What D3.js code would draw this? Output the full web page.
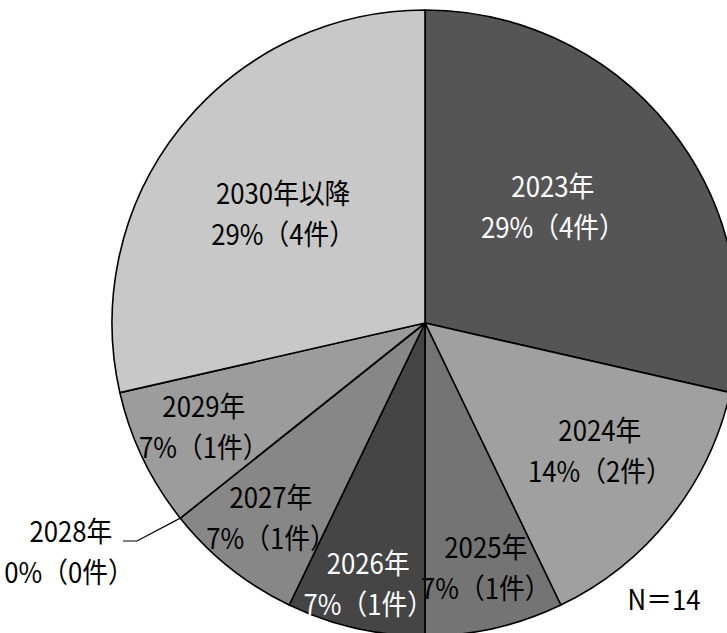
<!DOCTYPE html>
<html>
<head>
<meta charset="utf-8">
<script src="https://cdn.jsdelivr.net/npm/d3@7"></script>
<style>
body { margin: 0; background: #fff; }
text { font-family: "Noto Sans CJK JP", sans-serif; }
</style>
</head>
<body>
<script>
// data
var years = ["2023年", "2024年", "2025年", "2026年", "2027年", "2028年", "2029年", "2030年以降"];
var counts = [4, 2, 1, 1, 1, 0, 1, 4];
var total = 14;

// look
var fills = ["#555555", "#a0a0a0", "#747474", "#454545", "#878787", "#888888", "#9c9c9c", "#c8c8c8"];
var textFill = ["#fff", "#000", "#000", "#fff", "#000", "#000", "#000", "#000"];
// nudges from the centroid at 0.6r, labels were hand placed in the original
var nudge = [[-19, 0], [28, 9], [19, 60], [-15, 76], [-37, 47], [0, 0], [-52, 21], [5, 7]];

var width = 727, height = 633;
var cx = 425, cy = 323, r = 313;
var fs = 28, lineH = 41;
// the original font is a narrow gothic, so squeeze a little sideways
var squeeze = "scale(0.92,1)";

var svg = d3.select("body").append("svg")
    .attr("width", width)
    .attr("height", height);

var g = svg.append("g").attr("transform", "translate(" + cx + "," + cy + ")");

var pie = d3.pie().sort(null).value(function(d){ return d; });
var arcs = pie(counts);
var arc = d3.arc().innerRadius(0).outerRadius(r);
var labelArc = d3.arc().innerRadius(r * 0.6).outerRadius(r * 0.6);
var edgeArc = d3.arc().innerRadius(r).outerRadius(r);

g.selectAll("path.slice")
    .data(arcs).enter()
    .append("path")
    .attr("class", "slice")
    .attr("d", arc)
    .attr("fill", function(d,i){ return fills[i]; })
    .attr("stroke", "#000")
    .attr("stroke-width", 1.6)
    .attr("stroke-linejoin", "round");

function pct(v){ return Math.round(v / total * 100) + "%（" + v + "件）"; }

function label(parent, x, y, lines, fill) {
    var t = parent.append("g")
        .attr("transform", "translate(" + x + "," + y + ") " + squeeze)
        .append("text")
        .attr("text-anchor", "middle")
        .attr("font-size", fs + "px")
        .attr("fill", fill);
    lines.forEach(function(s, k){
        t.append("tspan")
            .attr("x", s.dx || 0)
            .attr("y", (k - (lines.length - 1) / 2) * lineH)
            .attr("dominant-baseline", "central")
            .text(s.text);
    });
}

arcs.forEach(function(d, i){
    if (d.value === 0) return;
    var c = labelArc.centroid(d);
    label(g, c[0] + nudge[i][0], c[1] + nudge[i][1],
        [{text: years[i]}, {text: pct(counts[i])}], textFill[i]);
});

// the empty 2028 slice gets a leader line out to the left
arcs.forEach(function(d, i){
    if (d.value !== 0) return;
    var e = edgeArc.centroid(d);
    var lx = 137 - cx, ly = 541 - cy;
    g.append("polyline")
        .attr("points", [[e[0], e[1]], [lx, ly], [lx - 14, ly]].join(" "))
        .attr("fill", "none")
        .attr("stroke", "#000")
        .attr("stroke-width", 1.2);
    label(g, 69 - cx, 551 - cy,
        [{text: years[i], dx: 2}, {text: pct(counts[i])}], "#000");
});

label(svg, 664, 598, [{text: "N＝" + total}], "#000");
</script>
</body>
</html>
